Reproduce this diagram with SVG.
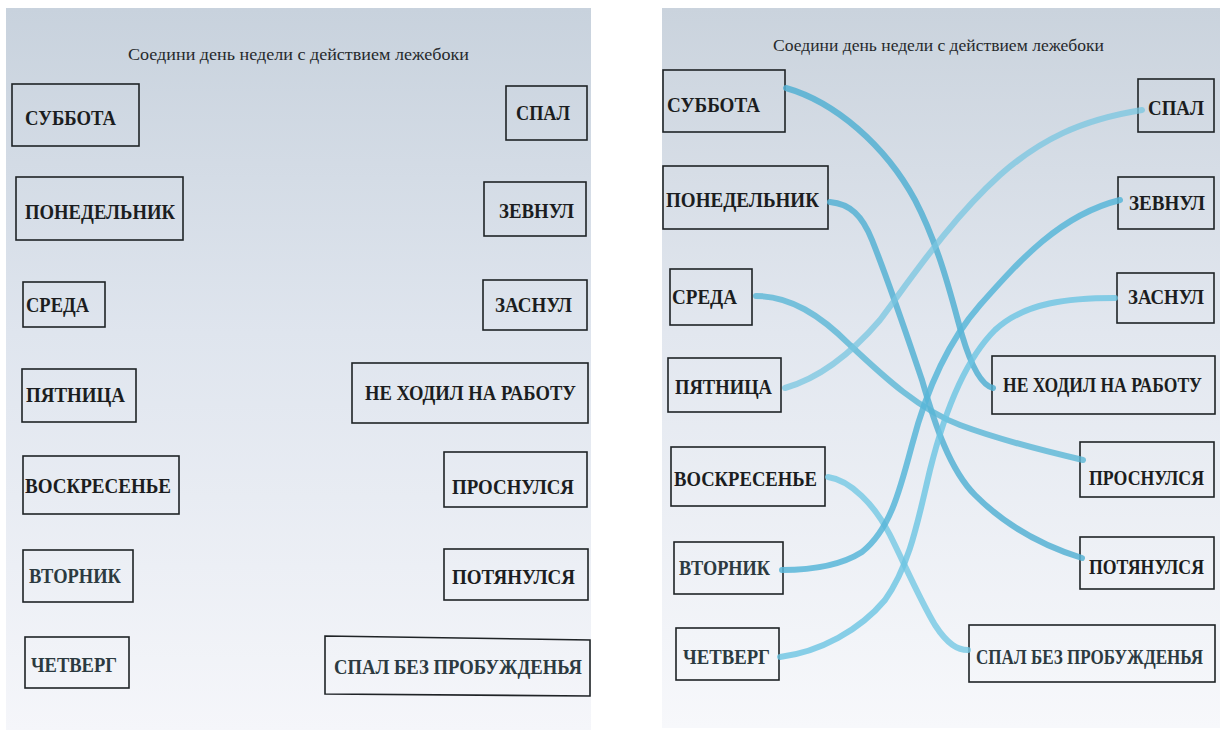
<svg xmlns="http://www.w3.org/2000/svg" width="1220" height="731" viewBox="0 0 1220 731">
<defs>
<linearGradient id="paperL" x1="0" y1="0" x2="0" y2="1">
<stop offset="0" stop-color="#c8d2dd"/>
<stop offset="0.45" stop-color="#dfe5ee"/>
<stop offset="1" stop-color="#f5f6fa"/>
</linearGradient>
<linearGradient id="paperR" x1="0" y1="0" x2="0" y2="1">
<stop offset="0" stop-color="#cad3dd"/>
<stop offset="0.45" stop-color="#e2e7ef"/>
<stop offset="1" stop-color="#f7f8fb"/>
</linearGradient>
<style>
.box{fill:none;stroke:#1f2326;stroke-width:1.6}
.lbl{font-family:"Liberation Serif","Times New Roman",serif;font-weight:bold;font-size:20px;fill:#1b1d20}
.lbl2{fill:#2c3a40}
.title{font-family:"Liberation Serif","Times New Roman",serif;font-size:17px;fill:#26292c}
.pen{fill:none;stroke-linecap:round;stroke-linejoin:round;stroke-width:6}
</style>
</defs>
<rect width="1220" height="731" fill="#ffffff"/>
<rect x="6" y="8" width="585" height="722" fill="url(#paperL)"/>
<rect x="662" y="8" width="558" height="720" fill="url(#paperR)"/>

<!-- Left sheet -->
<g id="left-sheet">
<text class="title" x="128" y="60" textLength="341" lengthAdjust="spacingAndGlyphs">Соедини день недели с действием лежебоки</text>
<g id="l-subbota"><rect class="box" x="12" y="84" width="127" height="62"/><text class="lbl" x="25" y="124.5" textLength="91" lengthAdjust="spacingAndGlyphs">СУББОТА</text></g>
<g id="l-ponedelnik"><rect class="box" x="16" y="177" width="167" height="63"/><text class="lbl" x="25" y="218.5" textLength="150" lengthAdjust="spacingAndGlyphs">ПОНЕДЕЛЬНИК</text></g>
<g id="l-sreda"><rect class="box" x="23" y="282" width="82" height="45"/><text class="lbl" x="26" y="311.5" textLength="63" lengthAdjust="spacingAndGlyphs">СРЕДА</text></g>
<g id="l-pyatnitsa"><rect class="box" x="22" y="369" width="114" height="53"/><text class="lbl" x="26" y="401.5" textLength="99" lengthAdjust="spacingAndGlyphs">ПЯТНИЦА</text></g>
<g id="l-voskresenye"><rect class="box" x="23" y="456" width="156" height="58"/><text class="lbl" x="25" y="492.5" textLength="146" lengthAdjust="spacingAndGlyphs">ВОСКРЕСЕНЬЕ</text></g>
<g id="l-vtornik"><rect class="box" x="23" y="550" width="110" height="52"/><text class="lbl lbl2" x="29" y="582.5" textLength="92" lengthAdjust="spacingAndGlyphs">ВТОРНИК</text></g>
<g id="l-chetverg"><rect class="box" x="25" y="637" width="104" height="51"/><text class="lbl lbl2" x="31" y="671.5" textLength="86" lengthAdjust="spacingAndGlyphs">ЧЕТВЕРГ</text></g>
<g id="l-spal"><rect class="box" x="506" y="86" width="81" height="54"/><text class="lbl" x="516" y="119.5" textLength="54" lengthAdjust="spacingAndGlyphs">СПАЛ</text></g>
<g id="l-zevnul"><rect class="box" x="484" y="182" width="102" height="54"/><text class="lbl" x="499" y="217.5" textLength="75" lengthAdjust="spacingAndGlyphs">ЗЕВНУЛ</text></g>
<g id="l-zasnul"><rect class="box" x="483" y="280" width="104" height="50"/><text class="lbl" x="495" y="311.5" textLength="77" lengthAdjust="spacingAndGlyphs">ЗАСНУЛ</text></g>
<g id="l-ne-hodil"><rect class="box" x="352" y="363" width="236" height="60"/><text class="lbl" x="365" y="399.5" textLength="211" lengthAdjust="spacingAndGlyphs">НЕ ХОДИЛ НА РАБОТУ</text></g>
<g id="l-prosnulsya"><rect class="box" x="444" y="452" width="143" height="55"/><text class="lbl" x="452" y="493.5" textLength="122" lengthAdjust="spacingAndGlyphs">ПРОСНУЛСЯ</text></g>
<g id="l-potyanulsya"><rect class="box" x="444" y="549" width="144" height="51"/><text class="lbl" x="452" y="583.5" textLength="123" lengthAdjust="spacingAndGlyphs">ПОТЯНУЛСЯ</text></g>
<g id="l-spal-bez"><path class="box" d="M325,636 L590,640 L590,696 L325,694 Z"/><text class="lbl lbl2" x="334" y="673.5" textLength="248" lengthAdjust="spacingAndGlyphs">СПАЛ БЕЗ ПРОБУЖДЕНЬЯ</text></g>
</g>

<!-- Right sheet -->
<g id="right-sheet">
<text class="title" x="773" y="51" textLength="331" lengthAdjust="spacingAndGlyphs">Соедини день недели с действием лежебоки</text>
<g id="r-subbota"><rect class="box" x="663" y="70" width="122" height="62"/><text class="lbl" x="667" y="111.5" textLength="93" lengthAdjust="spacingAndGlyphs">СУББОТА</text></g>
<g id="r-ponedelnik"><rect class="box" x="663" y="166" width="165" height="63"/><text class="lbl" x="666" y="206.5" textLength="153" lengthAdjust="spacingAndGlyphs">ПОНЕДЕЛЬНИК</text></g>
<g id="r-sreda"><rect class="box" x="670" y="269" width="82" height="56"/><text class="lbl" x="672" y="303.5" textLength="65" lengthAdjust="spacingAndGlyphs">СРЕДА</text></g>
<g id="r-pyatnitsa"><rect class="box" x="668" y="358" width="113" height="54"/><text class="lbl" x="675" y="393.5" textLength="97" lengthAdjust="spacingAndGlyphs">ПЯТНИЦА</text></g>
<g id="r-voskresenye"><rect class="box" x="671" y="447" width="154" height="59"/><text class="lbl" x="674" y="485.5" textLength="143" lengthAdjust="spacingAndGlyphs">ВОСКРЕСЕНЬЕ</text></g>
<g id="r-vtornik"><rect class="box" x="674" y="542" width="109" height="52"/><text class="lbl lbl2" x="679" y="574.5" textLength="91" lengthAdjust="spacingAndGlyphs">ВТОРНИК</text></g>
<g id="r-chetverg"><rect class="box" x="676" y="628" width="103" height="52"/><text class="lbl lbl2" x="683" y="663.5" textLength="87" lengthAdjust="spacingAndGlyphs">ЧЕТВЕРГ</text></g>
<g id="r-spal"><rect class="box" x="1138" y="79" width="76" height="53"/><text class="lbl" x="1148" y="114.5" textLength="56" lengthAdjust="spacingAndGlyphs">СПАЛ</text></g>
<g id="r-zevnul"><rect class="box" x="1118" y="177" width="96" height="52"/><text class="lbl" x="1129" y="209.5" textLength="76" lengthAdjust="spacingAndGlyphs">ЗЕВНУЛ</text></g>
<g id="r-zasnul"><rect class="box" x="1117" y="273" width="97" height="50"/><text class="lbl" x="1128" y="303.5" textLength="76" lengthAdjust="spacingAndGlyphs">ЗАСНУЛ</text></g>
<g id="r-ne-hodil"><rect class="box" x="992" y="356" width="223" height="58"/><text class="lbl" x="1003" y="391.5" textLength="199" lengthAdjust="spacingAndGlyphs">НЕ ХОДИЛ НА РАБОТУ</text></g>
<g id="r-prosnulsya"><rect class="box" x="1080" y="442" width="134" height="55"/><text class="lbl" x="1089" y="484.5" textLength="115" lengthAdjust="spacingAndGlyphs">ПРОСНУЛСЯ</text></g>
<g id="r-potyanulsya"><rect class="box" x="1080" y="537" width="134" height="52"/><text class="lbl" x="1089" y="573.5" textLength="115" lengthAdjust="spacingAndGlyphs">ПОТЯНУЛСЯ</text></g>
<g id="r-spal-bez"><rect class="box" x="969" y="625" width="246" height="57"/><text class="lbl lbl2" x="976" y="663.5" textLength="227" lengthAdjust="spacingAndGlyphs">СПАЛ БЕЗ ПРОБУЖДЕНЬЯ</text></g>
</g>

<!-- Connectors (pencil lines) -->
<g id="connectors">
<path class="pen" stroke="#54b0d2" stroke-opacity="0.85" d="M786,88 C835,102 885,145 915,200 C940,248 952,300 962,335 C970,362 980,385 993,388"/>
<path class="pen" stroke="#56b2d3" stroke-opacity="0.85" d="M830,202 C850,204 862,215 872,240 C890,285 905,330 922,380 C935,425 950,470 975,495 C1005,525 1040,545 1082,558"/>
<path class="pen" stroke="#5ab6d6" stroke-opacity="0.8" d="M756,296 C790,296 820,315 850,345 C885,378 920,410 960,425 C1000,440 1040,450 1083,460"/>
<path class="pen" stroke="#78c6e0" stroke-opacity="0.75" d="M785,388 C820,378 850,355 880,320 C910,280 950,220 1000,175 C1040,140 1080,120 1142,110"/>
<path class="pen" stroke="#74c8e4" stroke-opacity="0.8" d="M828,477 C850,480 875,505 890,535 C905,565 920,600 935,625 C948,645 958,650 968,650"/>
<path class="pen" stroke="#58b6d8" stroke-opacity="0.85" d="M782,570 C810,570 840,566 862,552 C890,530 900,490 912,445 C925,395 945,345 980,305 C1020,260 1060,215 1120,200"/>
<path class="pen" stroke="#6cc4e2" stroke-opacity="0.8" d="M780,657 C820,652 860,630 885,600 C910,565 918,520 930,470 C945,410 965,360 995,330 C1025,302 1070,298 1115,298"/>
</g>
</svg>
